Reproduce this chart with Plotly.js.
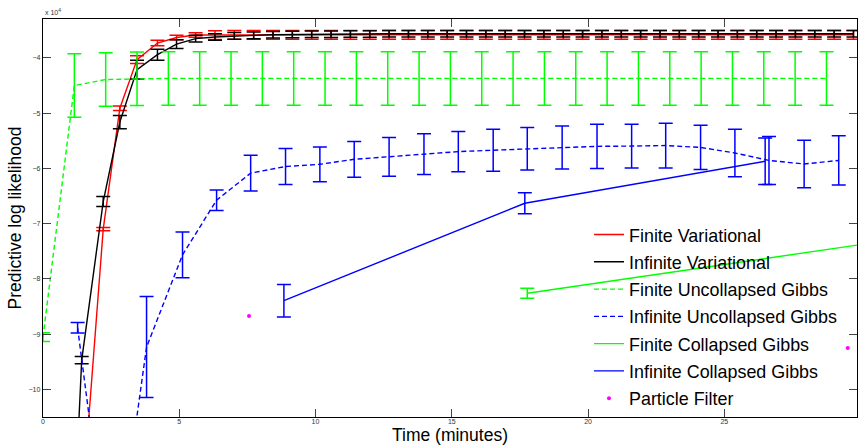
<!DOCTYPE html>
<html><head><meta charset="utf-8">
<script src="https://cdn.plot.ly/plotly-3.0.1.min.js"></script>
<style>html,body{margin:0;padding:0;background:#fff}#chart{width:858px;height:445px}</style>
</head><body><div id="chart"></div>
<script>
// ---- data (log likelihood values, minutes) ----
const varTime = [0.71, 1.42, 2.21, 2.82, 3.45, 4.2, 4.9, 5.6, 6.31, 7.02, 7.73, 8.44, 9.15, 9.86, 10.57, 11.28, 11.99, 12.7, 13.41, 14.12, 14.83, 15.54, 16.25, 16.96, 17.67, 18.38, 19.09, 19.8, 20.51, 21.22, 21.93, 22.64, 23.35, 24.06, 24.77, 25.48, 26.19, 26.9, 27.61, 28.32, 29.03, 29.74];
const finiteVar = [-160000, -122000, -71000, -49100, -40300, -37300, -36300, -35850, -35850, -35800, -35800, -35800, -35800, -35800, -35800, -35800, -35800, -35800, -35800, -35800, -35800, -35800, -35800, -35800, -35800, -35800, -35800, -35800, -35800, -35800, -35800, -35800, -35800, -35800, -35800, -35800, -35800, -35800, -35800, -35800, -35800, -35800];
const finiteVarErr = [3000, 3000, 300, 400, 700, 500, 400, 400, 800, 800, 800, 800, 800, 800, 800, 800, 800, 800, 800, 800, 800, 800, 800, 800, 800, 800, 800, 800, 800, 800, 800, 800, 800, 800, 800, 800, 800, 800, 800, 800, 800, 800];
const infiniteVar = [-170000, -94700, -66000, -51600, -42100, -39400, -37500, -36500, -36200, -36000, -35900, -35800, -35750, -35700, -35700, -35650, -35650, -35600, -35600, -35600, -35600, -35600, -35600, -35600, -35600, -35600, -35600, -35600, -35600, -35600, -35600, -35600, -35600, -35600, -35600, -35600, -35600, -35600, -35600, -35600, -35600, -35600];
const infiniteVarErr = [3000, 650, 900, 1200, 1700, 1000, 800, 600, 600, 600, 600, 600, 600, 600, 600, 600, 600, 600, 600, 600, 600, 600, 600, 600, 600, 600, 600, 600, 600, 600, 600, 600, 600, 600, 600, 600, 600, 600, 600, 600, 600, 600];

const fugTime = [0, 1.15, 2.3, 3.45, 4.6, 5.75, 6.9, 8.05, 9.2, 10.35, 11.5, 12.65, 13.8, 14.95, 16.1, 17.25, 18.4, 19.55, 20.7, 21.85, 23.0, 24.15, 25.3, 26.45, 27.6, 28.75];
const finiteUncollapsed = [-90550, -45000, -43900, -43750, -43700, -43700, -43700, -43700, -43700, -43700, -43700, -43700, -43700, -43700, -43700, -43700, -43700, -43700, -43700, -43700, -43700, -43700, -43700, -43700, -43700, -43700];
const finiteUncollapsedErr = [800, 5750, 4850, 4850, 4850, 4850, 4850, 4850, 4850, 4850, 4850, 4850, 4850, 4850, 4850, 4850, 4850, 4850, 4850, 4850, 4850, 4850, 4850, 4850, 4850, 4850];

const iugTime = [1.27, 2.54, 3.8, 5.12, 6.37, 7.62, 8.9, 10.16, 11.42, 12.7, 13.98, 15.24, 16.52, 17.77, 19.05, 20.33, 21.6, 22.85, 24.13, 25.39, 26.64, 27.93, 29.2];
const infiniteUncollapsed = [-88850, -137000, -92350, -75650, -65750, -60850, -59650, -59250, -58350, -57900, -57400, -56950, -56700, -56450, -56200, -56000, -55950, -55850, -56200, -57200, -58550, -59200, -58550];
const infiniteUncollapsedErr = [950, 5000, 9150, 4150, 1850, 3250, 3250, 3150, 3250, 3500, 3700, 3650, 3800, 3850, 3900, 4000, 3950, 4050, 4000, 4300, 4350, 4300, 4450];

const fcgTime = [17.77, 35.54];
const finiteCollapsed = [-82600, -69800];
const finiteCollapsedErr = [900, 1000];

const icgTime = [8.84, 17.68, 26.5];
const infiniteCollapsed = [-83950, -66300, -58700];
const infiniteCollapsedErr = [2950, 1900, 4200];

const pfTime = [7.56, 29.53];
const particleFilter = [-86700, -92500];

const yTickVals = [-100000, -90000, -80000, -70000, -60000, -50000, -40000];
const yTickText = ['\u221210', '\u22129', '\u22128', '\u22127', '\u22126', '\u22125', '\u22124'];
const xTickVals = [0, 5, 10, 15, 20, 25];
const xTickText = ['0', '5', '10', '15', '20', '25'];

// ---- traces ----
function errTrace(name, x, y, e, color, dash, grp) {
  return {
    type: 'scatter', mode: 'lines', name: name, x: x, y: y,
    line: {color: color, width: 1.4, dash: dash || 'solid'},
    error_y: {type: 'data', array: e, visible: true, color: color, thickness: 1.5, width: 7},
    legendgroup: grp
  };
}
const traces = [
  errTrace('Finite Variational', varTime, finiteVar, finiteVarErr, '#ff0000', 'solid', 'a'),
  errTrace('Infinite Variational', varTime, infiniteVar, infiniteVarErr, '#000000', 'solid', 'b'),
  errTrace('Finite Uncollapsed Gibbs', fugTime, finiteUncollapsed, finiteUncollapsedErr, '#00ff00', '5px,3px', 'c'),
  errTrace('Infinite Uncollapsed Gibbs', iugTime, infiniteUncollapsed, infiniteUncollapsedErr, '#0000ff', '5px,3px', 'd'),
  errTrace('Finite Collapsed Gibbs', fcgTime, finiteCollapsed, finiteCollapsedErr, '#00ff00', 'solid', 'e'),
  errTrace('Infinite Collapsed Gibbs', icgTime, infiniteCollapsed, infiniteCollapsedErr, '#0000ff', 'solid', 'f'),
  {type: 'scatter', mode: 'markers', name: 'Particle Filter', x: pfTime, y: particleFilter,
   marker: {color: '#ff00ff', size: 4}, legendgroup: 'g'}
];

const FONT = 'Liberation Sans, Arial, Helvetica, sans-serif';
const layout = {
  width: 858, height: 445,
  margin: {l: 43, r: 1, t: 19, b: 28, pad: 0},
  paper_bgcolor: '#ffffff', plot_bgcolor: '#ffffff',
  font: {family: FONT, color: '#000'},
  showlegend: true,
  legend: {x: 0.6708, xanchor: 'left', y: 0.504, yanchor: 'top', bgcolor: 'rgba(0,0,0,0)',
           borderwidth: 0, font: {family: FONT, size: 17.9, color: '#000'},
           itemwidth: 30, tracegroupgap: 1, traceorder: 'grouped'},
  xaxis: {
    range: [0, 29.87], showgrid: false, zeroline: false,
    showline: true, linecolor: '#000', linewidth: 1.2, mirror: 'allticks',
    ticks: 'inside', ticklen: 8, tickwidth: 1, tickcolor: '#444',
    tickvals: xTickVals, ticktext: xTickText, ticklabelstandoff: -3,
    tickfont: {family: FONT, size: 7, color: '#333'},
    title: {text: 'Time (minutes)', font: {family: FONT, size: 17.5, color: '#000'}, standoff: 6}
  },
  yaxis: {
    range: [-105010, -32940], showgrid: false, zeroline: false,
    showline: true, linecolor: '#000', linewidth: 1.2, mirror: 'allticks',
    ticks: 'inside', ticklen: 8, tickwidth: 1, tickcolor: '#444',
    tickvals: yTickVals, ticktext: yTickText,
    tickfont: {family: FONT, size: 7, color: '#333'},
    title: {text: 'Predictive log likelihood', font: {family: FONT, size: 17.5, color: '#000'}, standoff: 2}
  },
  annotations: [
    {text: 'x 10<sup>4</sup>', xref: 'paper', yref: 'paper', x: 0, y: 1, xanchor: 'left', yanchor: 'bottom',
     yshift: 1, showarrow: false, font: {family: FONT, size: 7, color: '#333'}}
  ]
};
Plotly.newPlot('chart', traces, layout, {displayModeBar: false, staticPlot: true});
</script>
</body></html>
